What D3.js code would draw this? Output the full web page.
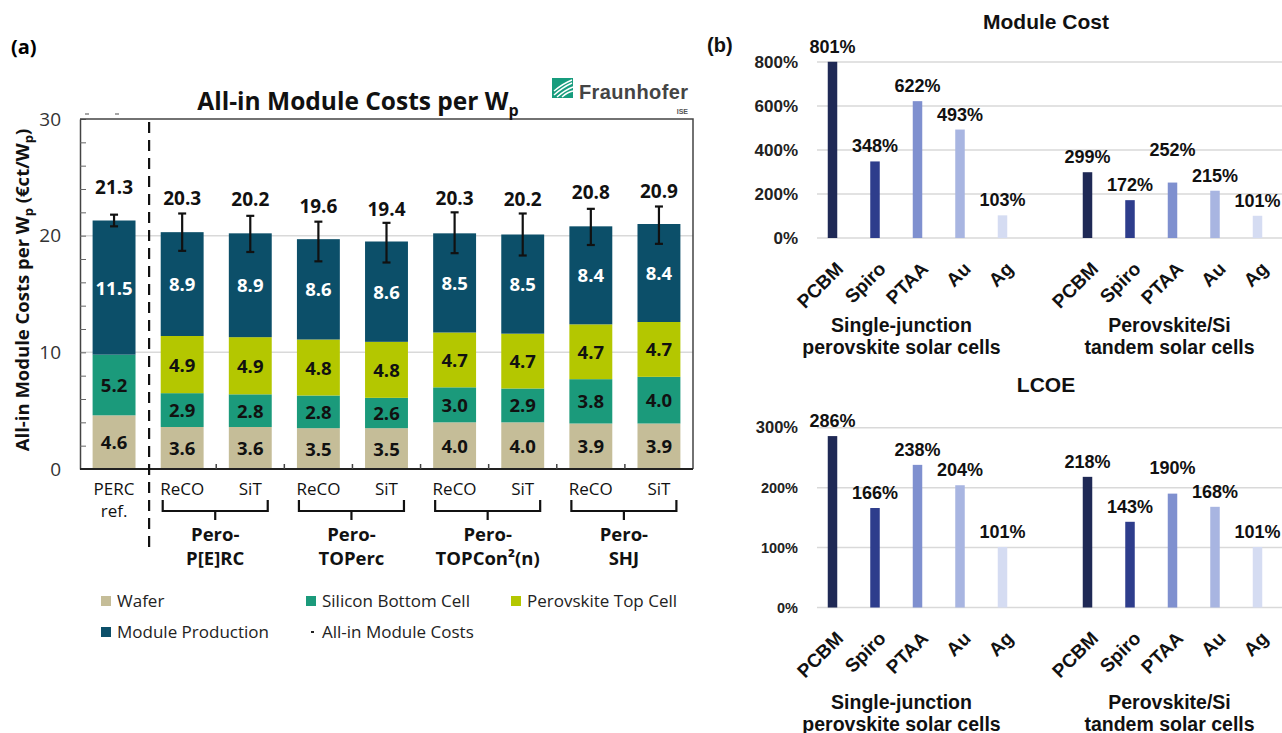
<!DOCTYPE html>
<html>
<head>
<meta charset="utf-8">
<script src="https://cdn.jsdelivr.net/npm/d3@7"></script>
<style>
body { margin:0; background:#fff; }
svg { display:block; }
</style>
</head>
<body>
<svg id="chart" width="1282" height="733"></svg>
<script>
// ---- panel (a) data
const categories = ["PERC\nref.","ReCO","SiT","ReCO","SiT","ReCO","SiT","ReCO","SiT"];
const technologies = ["Pero-\nP[E]RC","Pero-\nTOPerc","Pero-\nTOPCon²(n)","Pero-\nSHJ"];
const seriesNames = ["Wafer","Silicon Bottom Cell","Perovskite Top Cell","Module Production"];
const wafer = [4.6,3.6,3.6,3.5,3.5,4.0,4.0,3.9,3.9];
const siliconBottom = [5.2,2.9,2.8,2.8,2.6,3.0,2.9,3.8,4.0];
const perovskiteTop = [0,4.9,4.9,4.8,4.8,4.7,4.7,4.7,4.7];
const moduleProduction = [11.5,8.9,8.9,8.6,8.6,8.5,8.5,8.4,8.4];
const totals = [21.3,20.3,20.2,19.6,19.4,20.3,20.2,20.8,20.9];
const errLow = [20.8,18.7,18.6,17.8,17.7,18.5,18.3,19.2,19.3];
const errHigh = [21.8,21.9,21.7,21.2,21.1,22.0,21.9,22.3,22.5];
const yTicksA = [0,10,20,30];

// ---- panel (b) data
const materials = ["PCBM","Spiro","PTAA","Au","Ag"];
const deviceGroups = ["Single-junction\nperovskite solar cells","Perovskite/Si\ntandem solar cells"];
const moduleCostSJ = [801,348,622,493,103];
const moduleCostTandem = [299,172,252,215,101];
const lcoeSJ = [286,166,238,204,101];
const lcoeTandem = [218,143,190,168,101];
const moduleCostTicks = [0,200,400,600,800];
const lcoeTicks = [0,100,200,300];

const seriesColors = ["#c5bd98","#1b9a7b","#b4c700","#0c4f69"];
const materialColors = ["#1f2955","#2e3d8c","#7f90cf","#a8b5e1","#d5dcf2"];
const fa = "'Open Sans', Lato, sans-serif";
const fb = "'Liberation Sans', Arial, sans-serif";

const svg = d3.select("#chart");

// ================= panel (a)
const A = {left:80, right:693, top:119, bottom:469};
const x = d3.scaleBand().domain(d3.range(categories.length))
    .range([A.left, A.right]).paddingInner(0.37).paddingOuter(0.185);
const y = d3.scaleLinear().domain([0,30]).range([A.bottom, A.top]);
const keys = ["wafer","siliconBottom","perovskiteTop","moduleProduction"];
const rows = d3.range(categories.length).map(i => ({
    wafer: wafer[i], siliconBottom: siliconBottom[i],
    perovskiteTop: perovskiteTop[i], moduleProduction: moduleProduction[i]
}));
const stacked = d3.stack().keys(keys)(rows);

svg.append("text").attr("x", 11).attr("y", 54)
    .style("font", `bold 20px ${fa}`).text("(a)");

// grid
svg.append("g").selectAll("line").data([10,20]).join("line")
    .attr("x1", A.left).attr("x2", A.right)
    .attr("y1", d => y(d)).attr("y2", d => y(d))
    .attr("stroke", "#d9d9d9").attr("stroke-width", 1.5);

// bars
const layer = svg.append("g").selectAll("g").data(stacked).join("g")
    .attr("fill", (d,i) => seriesColors[i]);
layer.selectAll("rect").data(d => d.map((v,i) => ({v, i}))).join("rect")
    .attr("x", d => x(d.i)).attr("width", x.bandwidth())
    .attr("y", d => y(d.v[1])).attr("height", d => y(d.v[0]) - y(d.v[1]));

// segment labels
stacked.forEach((s, k) => {
    svg.append("g").selectAll("text").data(s.map((v,i) => ({v, i})).filter(d => d.v[1] - d.v[0] > 0))
        .join("text")
        .attr("x", d => x(d.i) + x.bandwidth()/2)
        .attr("y", d => (y(d.v[0]) + y(d.v[1]))/2 + 7)
        .attr("text-anchor", "middle")
        .style("font", `bold 18.5px ${fa}`)
        .attr("fill", k === 3 ? "#fff" : "#111")
        .text(d => (d.v[1] - d.v[0]).toFixed(1));
});

// error bars
const eb = svg.append("g").attr("stroke", "#111").attr("stroke-width", 2.2);
d3.range(categories.length).forEach(i => {
    const cx = x(i) + x.bandwidth()/2;
    eb.append("line").attr("x1", cx).attr("x2", cx).attr("y1", y(errHigh[i])).attr("y2", y(errLow[i]));
    eb.append("line").attr("x1", cx-4).attr("x2", cx+4).attr("y1", y(errHigh[i])).attr("y2", y(errHigh[i]));
    eb.append("line").attr("x1", cx-4).attr("x2", cx+4).attr("y1", y(errLow[i])).attr("y2", y(errLow[i]));
});

// totals
svg.append("g").selectAll("text").data(totals).join("text")
    .attr("x", (d,i) => x(i) + x.bandwidth()/2)
    .attr("y", d => y(d) - 27)
    .attr("text-anchor", "middle")
    .style("font", `bold 19px ${fa}`).attr("fill", "#111")
    .text(d => d.toFixed(1));

// y axis
const yAxis = svg.append("g").attr("transform", `translate(${A.left},0)`)
    .call(d3.axisLeft(y).tickValues(d3.range(0,31,2)).tickSizeInner(-6).tickSizeOuter(0)
        .tickPadding(19).tickFormat(d => yTicksA.includes(d) ? d : ""));
yAxis.select(".domain").attr("stroke", "#444").attr("stroke-width", 1.5);
yAxis.selectAll(".tick line").attr("stroke", "#666");
yAxis.selectAll(".tick text").style("font", `19px ${fa}`).attr("fill", "#333");

// frame
svg.append("path")
    .attr("d", `M${A.left},${A.top}H${A.right}V${A.bottom}`)
    .attr("fill", "none").attr("stroke", "#444").attr("stroke-width", 1.5);
svg.append("line").attr("x1", A.left).attr("x2", A.right).attr("y1", A.bottom).attr("y2", A.bottom)
    .attr("stroke", "#222").attr("stroke-width", 2);
svg.append("g").selectAll("line").data(d3.range(2, categories.length)).join("line")
    .attr("x1", i => x(i) - x.step()*x.paddingInner()/2)
    .attr("x2", i => x(i) - x.step()*x.paddingInner()/2)
    .attr("y1", A.bottom).attr("y2", A.bottom - 5)
    .attr("stroke", "#444").attr("stroke-width", 1.5);
svg.append("g").selectAll("line").data([87,117]).join("line")
    .attr("x1", d => d - 2).attr("x2", d => d + 2).attr("y1", 114).attr("y2", 114)
    .attr("stroke", "#888").attr("stroke-width", 1.5);

// separator
const sepX = x(1) - x.step()*x.paddingInner()/2 + 1;
svg.append("line").attr("x1", sepX).attr("x2", sepX).attr("y1", 122).attr("y2", 548)
    .attr("stroke", "#111").attr("stroke-width", 2.2).attr("stroke-dasharray", "11,7");

// title
const title = svg.append("text").attr("x", 358).attr("y", 110).attr("text-anchor", "middle")
    .style("font", `bold 24.5px ${fa}`).attr("fill", "#111");
title.append("tspan").text("All-in Module Costs per W");
title.append("tspan").attr("dy", 6).style("font-size", "16px").text("p");

// y label
const yl = svg.append("text").attr("transform", "translate(29,290) rotate(-90)")
    .attr("text-anchor", "middle").style("font", `bold 18.5px ${fa}`).attr("fill", "#111");
yl.append("tspan").text("All-in Module Costs per W");
yl.append("tspan").attr("dy", 4).style("font-size", "13px").text("p");
yl.append("tspan").attr("dy", -4).text(" (€ct/W");
yl.append("tspan").attr("dy", 4).style("font-size", "13px").text("p");
yl.append("tspan").attr("dy", -4).text(")");

// category labels
const cl = svg.append("g").selectAll("text").data(categories).join("text")
    .attr("text-anchor", "middle").style("font", `17px ${fa}`).attr("fill", "#111")
    .attr("x", (d,i) => x(i) + x.bandwidth()/2).attr("y", 495);
cl.selectAll("tspan").data(d => d.split("\n")).join("tspan")
    .attr("x", function(){ return this.parentNode.getAttribute("x"); })
    .attr("dy", (d,j) => j ? 22 : 0).text(d => d);

// brackets + technology labels
technologies.forEach((t, g) => {
    const i0 = 1 + g*2, i1 = i0 + 1;
    const xa = x(i0) + 2, xb = x(i1) + x.bandwidth() - 4, xm = (xa + xb)/2;
    svg.append("path")
        .attr("d", `M${xa},500V511H${xb}V500M${xm},511V520`)
        .attr("fill", "none").attr("stroke", "#111").attr("stroke-width", 2.2);
    svg.append("text").attr("text-anchor", "middle").style("font", `bold 18.5px ${fa}`).attr("fill", "#111")
        .selectAll("tspan").data(t.split("\n")).join("tspan")
        .attr("x", xm).attr("y", (d,j) => 541 + j*24).text(d => d);
});

// legend
const legendItems = seriesNames.map((n,i) => ({n, c: seriesColors[i]}))
    .concat([{n:"All-in Module Costs", c:null}]);
const legendPos = [[101,601],[306,601],[511,601],[101,632],[306,632]];
const lg = svg.append("g").selectAll("g").data(legendItems).join("g")
    .attr("transform", (d,i) => `translate(${legendPos[i][0]},${legendPos[i][1]})`);
lg.filter(d => d.c).append("rect").attr("x", 0).attr("y", -5).attr("width", 10).attr("height", 10)
    .attr("fill", d => d.c);
lg.filter(d => !d.c).append("line").attr("x1", 5).attr("x2", 8).attr("y1", 0).attr("y2", 0)
    .attr("stroke", "#222").attr("stroke-width", 2);
lg.append("text").attr("x", 16).attr("y", 6)
    .style("font", `17px ${fa}`).attr("fill", "#222").text(d => d.n);

// Fraunhofer mark
const logo = svg.append("g").attr("transform", "translate(552,78)");
logo.append("rect").attr("width", 21).attr("height", 20).attr("fill", "#179c7d");
[[2,17,20,5],[2,13,20,2],[5,19,21,9],[10,19,21,13]].forEach(p => {
    logo.append("path").attr("d", `M${p[0]},${p[1]}Q${(p[0]+p[2])/2},${(p[1]+p[3])/2 - 2} ${p[2]},${p[3]}`)
        .attr("fill", "none").attr("stroke", "#fff").attr("stroke-width", 1.4);
});
svg.append("text").attr("x", 579).attr("y", 99).attr("textLength", 109)
    .style("font", `bold 20px ${fb}`).attr("fill", "#444").text("Fraunhofer");
svg.append("text").attr("x", 688).attr("y", 114).attr("text-anchor", "end")
    .style("font", `bold 7px ${fb}`).attr("fill", "#555").text("ISE");

// ================= panel (b)
svg.append("text").attr("x", 707).attr("y", 52)
    .style("font", `bold 20px ${fb}`).attr("fill", "#111").text("(b)");

const slotKeys = materials.map(m => "sj-" + m).concat(["gap"], materials.map(m => "tan-" + m));
const xb = d3.scalePoint().domain(slotKeys).range([832.5, 1257.5]);
const barW = 9.5;

function drawPct(cfg) {
    const yb = d3.scaleLinear().domain([0, d3.max(cfg.ticks)]).range([cfg.y0, cfg.y1]);
    svg.append("text").attr("x", 1046).attr("y", cfg.titleY).attr("text-anchor", "middle")
        .style("font", `bold 21px ${fb}`).attr("fill", "#111").text(cfg.title);

    const ax = svg.append("g").attr("transform", "translate(817,0)")
        .call(d3.axisLeft(yb).tickValues(cfg.ticks).tickSize(0).tickPadding(19).tickFormat(d => d + "%"));
    ax.select(".domain").remove();
    ax.selectAll(".tick text").style("font", (d) => `bold ${cfg.tickFont(d)}px ${fb}`).attr("fill", "#222");
    svg.append("g").selectAll("line").data(cfg.ticks).join("line")
        .attr("x1", 817).attr("x2", 1282).attr("y1", d => yb(d)).attr("y2", d => yb(d))
        .attr("stroke", "#d9d9d9").attr("stroke-width", 1.5);

    const vals = cfg.sj.map((v,i) => ({k: "sj-" + materials[i], v, i}))
        .concat(cfg.tandem.map((v,i) => ({k: "tan-" + materials[i], v, i})));
    svg.append("g").selectAll("rect").data(vals).join("rect")
        .attr("x", d => xb(d.k) - barW/2).attr("width", barW)
        .attr("y", d => yb(d.v)).attr("height", d => yb(0) - yb(d.v))
        .attr("fill", d => materialColors[d.i]);
    svg.append("g").selectAll("text").data(vals).join("text")
        .attr("x", d => xb(d.k)).attr("y", d => yb(d.v) - 9 - (cfg.lift[d.k] || 0))
        .attr("text-anchor", "middle").style("font", `bold 18px ${fb}`).attr("fill", "#111")
        .text(d => d.v + "%");

    svg.append("g").selectAll("text").data(vals).join("text")
        .attr("transform", d => `translate(${xb(d.k) + 12},${cfg.y0 + 32}) rotate(-45)`)
        .attr("text-anchor", "end").style("font", `bold 19px ${fb}`).attr("fill", "#111")
        .text(d => materials[d.i]);

    deviceGroups.forEach((g, gi) => {
        const ks = materials.map(m => (gi ? "tan-" : "sj-") + m);
        const gx = (xb(ks[0]) + xb(ks[4]))/2 + (gi ? -3 : -16);
        svg.append("text").attr("text-anchor", "middle").style("font", `bold 19.5px ${fb}`).attr("fill", "#111")
            .selectAll("tspan").data(g.split("\n")).join("tspan")
            .attr("x", gx).attr("y", (d,j) => cfg.y0 + cfg.groupDy + j*22).text(d => d);
    });
}

drawPct({title: "Module Cost", titleY: 29, y0: 238, y1: 62, ticks: moduleCostTicks,
    sj: moduleCostSJ, tandem: moduleCostTandem, lift: {"tan-PTAA": 18},
    groupDy: 94, tickFont: () => 17});
drawPct({title: "LCOE", titleY: 392, y0: 607.5, y1: 427.7, ticks: lcoeTicks,
    sj: lcoeSJ, tandem: lcoeTandem, lift: {"tan-PTAA": 11},
    groupDy: 101, tickFont: d => d === 300 ? 16.5 : 14.5});
</script>
</body>
</html>
